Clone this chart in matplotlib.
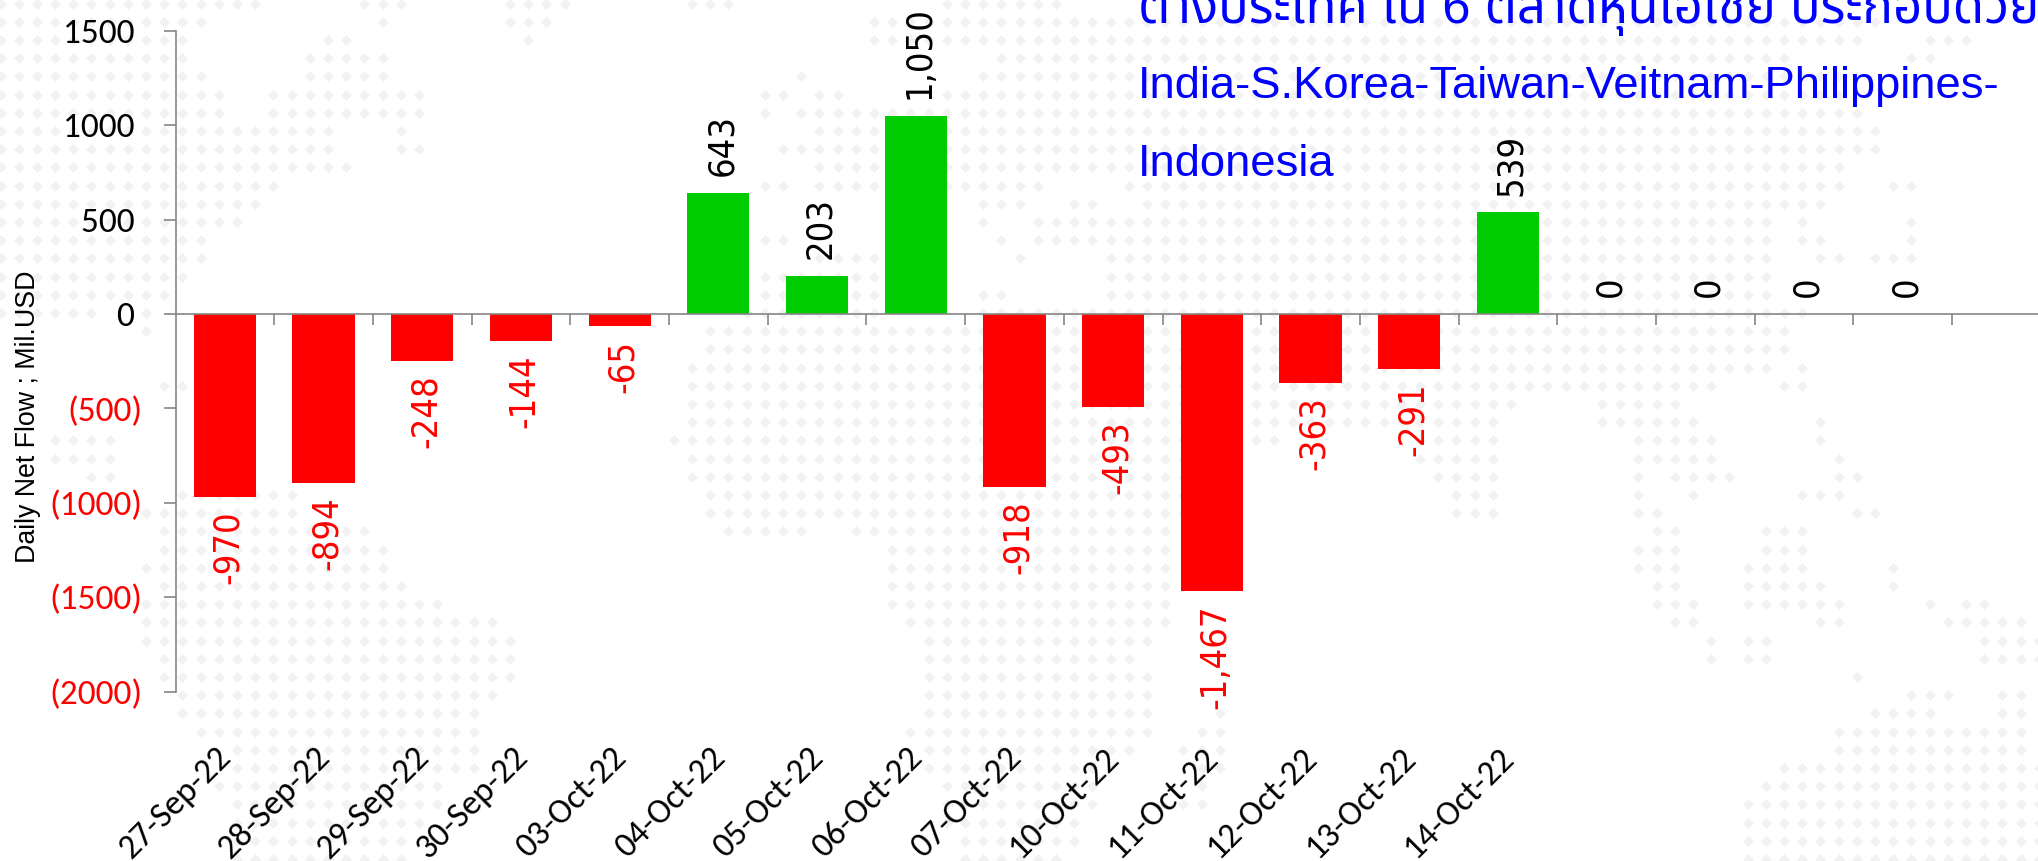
# plot.py
import matplotlib
matplotlib.use("Agg")
import matplotlib.pyplot as plt

dates = ["27-Sep-22", "28-Sep-22", "29-Sep-22", "30-Sep-22", "03-Oct-22", "04-Oct-22", "05-Oct-22",
         "06-Oct-22", "07-Oct-22", "10-Oct-22", "11-Oct-22", "12-Oct-22", "13-Oct-22", "14-Oct-22",
         "", "", "", "", ""]
net_flow = [-970, -894, -248, -144, -65, 643, 203, 1050, -918, -493, -1467, -363, -291, 539, 0, 0, 0, 0]
y_ticks = [1500, 1000, 500, 0, -500, -1000, -1500, -2000]
note_lines = ["ต่างประเทศ ใน 6 ตลาดหุ้นเอเชีย ประกอบด้วย",
              "India-S.Korea-Taiwan-Veitnam-Philippines-",
              "Indonesia"]

# watermark map: for each dot row, the runs of dot columns
map_rows = [
    [(0, 14), (20, 22), (28, 31), (38, 40), (52, 58)],
    [(0, 11), (21, 21), (28, 30), (48, 103)],
    [(0, 10), (18, 19), (29, 29), (48, 102), (106, 108)],
    [(0, 10), (17, 21), (55, 98), (105, 106)],
    [(0, 11), (17, 21), (44, 44), (54, 102)],
    [(0, 12), (15, 23), (42, 43), (45, 46), (52, 102)],
    [(0, 12), (15, 23), (42, 42), (44, 102)],
    [(0, 18), (22, 22), (45, 103)],
    [(0, 18), (22, 23), (43, 103)],
    [(0, 19), (45, 101)],
    [(0, 15), (42, 43), (45, 57), (62, 101), (104, 105)],
    [(0, 14), (54, 56), (59, 60), (63, 100)],
    [(0, 13), (54, 54), (57, 97), (99, 99), (105, 105)],
    [(0, 11), (42, 43), (55, 55), (57, 97), (99, 100), (105, 105)],
    [(0, 11), (45, 48), (56, 56), (61, 97), (100, 101), (103, 105)],
    [(0, 10), (42, 48), (61, 97)],
    [(0, 9), (42, 48), (54, 55), (61, 97)],
    [(0, 5), (8, 8), (41, 48), (54, 99)],
    [(8, 8), (39, 98)],
    [(39, 98)],
    [(38, 97), (99, 99)],
    [(9, 10), (38, 94), (98, 99)],
    [(38, 83), (88, 92)],
    [(38, 82), (88, 93), (100, 100)],
    [(3, 6), (37, 70), (78, 82), (90, 94), (100, 100)],
    [(3, 6), (38, 68), (78, 82), (90, 94), (101, 101)],
    [(5, 6), (38, 68), (79, 82), (90, 90), (92, 95), (101, 102)],
    [(10, 16), (39, 68), (80, 82), (90, 90), (93, 93), (99, 101)],
    [(8, 16), (39, 68), (80, 82), (90, 91), (102, 103)],
    [(9, 20), (40, 44), (47, 64), (91, 92), (97, 99)],
    [(9, 21), (49, 64), (90, 92), (97, 99)],
    [(8, 21), (49, 64), (90, 92), (96, 99), (104, 104)],
    [(9, 22), (49, 64), (91, 92), (96, 100), (104, 104)],
    [(8, 24), (49, 64), (91, 93), (96, 101), (106, 106), (108, 109)],
    [(8, 27), (50, 64), (92, 93), (100, 101), (107, 111)],
    [(8, 28), (51, 63), (94, 94), (96, 97), (109, 112)],
    [(9, 28), (51, 62), (94, 94), (96, 97), (109, 112)],
    [(9, 28), (51, 63), (102, 102)],
    [(10, 27), (51, 63), (105, 107), (110, 111)],
    [(10, 26), (51, 63), (67, 67), (103, 106), (110, 111)],
    [(11, 26), (50, 63), (66, 67), (101, 111)],
    [(13, 26), (51, 62), (65, 67), (101, 111)],
    [(13, 26), (51, 60), (66, 67), (98, 112)],
    [(12, 24), (52, 60), (66, 66), (97, 112)],
    [(13, 24), (52, 60), (65, 66), (96, 112)],
    [(13, 23), (52, 59), (96, 112)],
    [(13, 22), (53, 59), (96, 112)],
    [(13, 22), (53, 58), (96, 112)],
]

W, H = 2038, 861
fig = plt.figure(figsize=(W / 100, H / 100), dpi=100, facecolor="white")

# dotted map behind the chart
bg = fig.add_axes([0, 0, 1, 1])
bg.set_xlim(0, W)
bg.set_ylim(H, 0)
bg.axis("off")
dot_x, dot_y = [], []
for k, runs in enumerate(map_rows):
    for a, b in runs:
        for j in range(a, b + 1):
            dot_x.append(0.5 + 18.2 * j)
            dot_y.append(3.5 + 18.2 * k)
bg.scatter(dot_x, dot_y, s=32, marker="D", color="#f2f2f2", linewidths=0)

left, top, bottom = 175.5, 30.7, 691.7
ax = fig.add_axes([left / W, 1 - bottom / H, (W - left) / W, (bottom - top) / H])
ax.patch.set_alpha(0)
ax.set_ylim(-2000, 1500)
ax.set_xlim(-0.5, (W - left) / 98.7 - 0.5)

x = list(range(len(net_flow)))
colors = ["#ff0000" if v < 0 else "#00cc00" for v in net_flow]
ax.bar(x, net_flow, width=0.63, color=colors)

for i, v in zip(x, net_flow):
    if v < 0:
        ax.annotate(f"{v:,}", (i, v), xytext=(2.5, -9.5), textcoords="offset points", rotation=90,
                    ha="center", va="top", color="#ff0000", fontsize=26, family="DejaVu Sans",
                    stretch="condensed")
    else:
        ax.annotate(f"{v:,}", (i, v), xytext=(2.5, 12), textcoords="offset points", rotation=90,
                    ha="center", va="bottom", color="black", fontsize=26, family="DejaVu Sans",
                    stretch="condensed")

for s in ["top", "right"]:
    ax.spines[s].set_visible(False)
ax.spines["bottom"].set_position(("data", 0))
for s in ["left", "bottom"]:
    ax.spines[s].set_color("#868686")
    ax.spines[s].set_linewidth(1.2)

ax.set_yticks(y_ticks)
ylabels = [f"({-t})" if t < 0 else f"{t} " for t in y_ticks]
ax.set_yticklabels(ylabels, fontsize=25.5, family=["Carlito", "Lato"])
for lab, t in zip(ax.get_yticklabels(), y_ticks):
    lab.set_color("#ff0000" if t < 0 else "black")
ax.tick_params(axis="y", length=8.7, width=1.2, color="#868686", pad=15)

# date labels sit a little left of the bar centres
ax.set_xticks([i - 0.09 for i in x + [18]])
ax.set_xticklabels(dates, rotation=45, ha="right", rotation_mode="anchor", fontsize=25,
                   family=["Carlito", "Lato"])
ax.tick_params(axis="x", which="major", length=0, pad=308)
ax.set_xticks([i - 0.5 for i in range(1, 19)], minor=True)
ax.tick_params(axis="x", which="minor", length=7.7, width=1.2, color="#868686")

fig.text(28.5 / W, 1 - 417 / H, "Daily Net Flow ; Mil.USD", rotation=90, ha="center", va="center",
         fontsize=19.3, family="Liberation Sans")

# note in the top right corner, runs off the top of the picture
note_y = [23, 98, 176]
note_size = [36.5, 32.7, 32.7]
for line, y, size in zip(note_lines, note_y, note_size):
    fig.text(1138 / W, 1 - y / H, line, color="#0000ff", fontsize=size, va="baseline",
             family=["Liberation Sans", "Noto Sans Thai", "DejaVu Sans"])

fig.savefig("out.png", dpi=100)
